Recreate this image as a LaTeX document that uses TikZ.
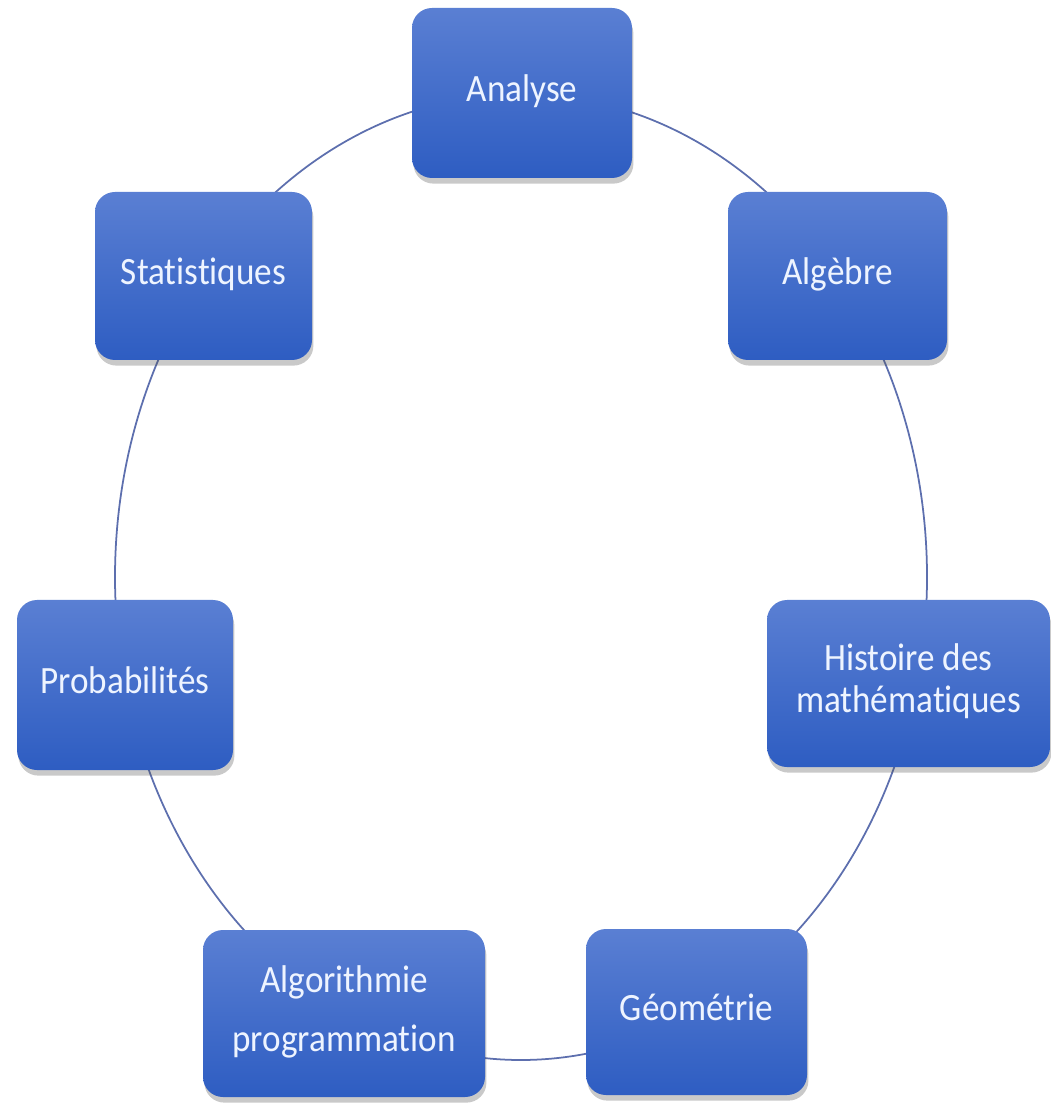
\documentclass[tikz,border=0pt]{standalone}
\usepackage{fontspec}
\setmainfont{Carlito}[Ligatures=NoCommon]
\usetikzlibrary{shadows,backgrounds}
\definecolor{boxtop}{HTML}{5A7FD3}
\definecolor{boxbot}{HTML}{2E5DC2}
\definecolor{boxtxt}{HTML}{EEF4FF}
\definecolor{ringcol}{HTML}{5D6FAE}
\newcommand\boxtext[1]{\scalebox{1}[1.1]{\fontsize{10}{10.8}\selectfont\begin{tabular}{@{}c@{}}#1\end{tabular}}}
\tikzset{
  topic/.style={rectangle, rounded corners=0.2cm, inner sep=0pt,
    top color=boxtop, bottom color=boxbot, text=boxtxt,
    minimum height=1.68cm,
    drop shadow={shadow xshift=0.4pt, shadow yshift=-1.6pt, opacity=0.3, fill=black!70}},
  ringarc/.style={draw=ringcol, line width=0.5pt}
}
\def\rx{4.06}
\def\ry{4.83}
\begin{document}
\begin{tikzpicture}
\useasboundingbox (0,0) rectangle (10.5,-11.04);
\coordinate (ring) at (5.21,-5.77);
\node[topic, minimum width=2.20cm, minimum height=1.70cm] (ana) at (5.22,-0.93) {\boxtext{Analyse}};
\node[topic, minimum width=2.19cm] (alg) at (8.375,-2.76) {\boxtext{Algèbre}};
\node[topic, minimum width=2.83cm, minimum height=1.67cm] (his) at (9.085,-6.835) {\boxtext{Histoire des\\mathématiques}};
\node[topic, minimum width=2.21cm, minimum height=1.66cm] (geo) at (6.965,-10.12) {\boxtext{Géométrie}};
\node[topic, minimum width=2.82cm, minimum height=1.67cm] (algo) at (3.44,-10.135) {\boxtext{Algorithmie\\[4.6pt]programmation}};
\node[topic, minimum width=2.16cm, minimum height=1.70cm] (pro) at (1.25,-6.85) {\boxtext{Probabilités}};
\node[topic, minimum width=2.17cm] (sta) at (2.035,-2.76) {\boxtext{Statistiques}};
\begin{scope}[on background layer]
  % connectors: arcs of the ring between consecutive topics
  \draw[ringarc] (ring) ++(104:\rx cm and \ry cm) arc[start angle=104, end angle=128.5, x radius=\rx cm, y radius=\ry cm]; % ana -- sta
  \draw[ringarc] (ring) ++(152:\rx cm and \ry cm) arc[start angle=152, end angle=184, x radius=\rx cm, y radius=\ry cm]; % sta -- pro
  \draw[ringarc] (ring) ++(202:\rx cm and \ry cm) arc[start angle=202, end angle=228.5, x radius=\rx cm, y radius=\ry cm]; % pro -- algo
  \draw[ringarc] (ring) ++(264:\rx cm and \ry cm) arc[start angle=264, end angle=280.5, x radius=\rx cm, y radius=\ry cm]; % algo -- geo
  \draw[ringarc] (ring) ++(311:\rx cm and \ry cm) arc[start angle=311, end angle=338, x radius=\rx cm, y radius=\ry cm]; % geo -- his
  \draw[ringarc] (ring) ++(356:\rx cm and \ry cm) arc[start angle=356, end angle=388, x radius=\rx cm, y radius=\ry cm]; % his -- alg
  \draw[ringarc] (ring) ++(51.5:\rx cm and \ry cm) arc[start angle=51.5, end angle=75.5, x radius=\rx cm, y radius=\ry cm]; % alg -- ana
\end{scope}
\end{tikzpicture}
\end{document}
